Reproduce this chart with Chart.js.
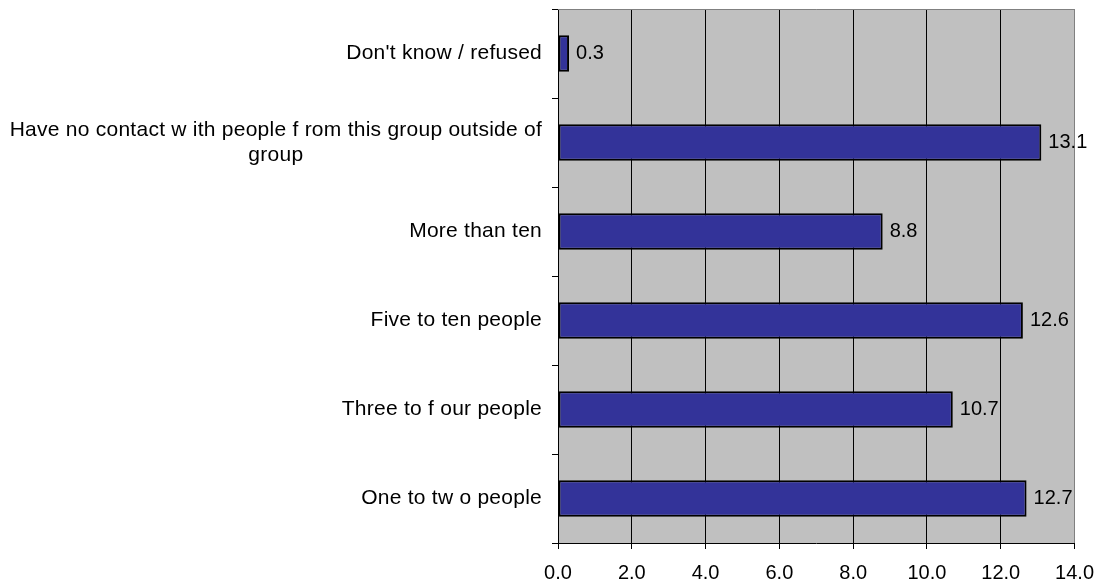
<!DOCTYPE html>
<html>
<head>
<meta charset="utf-8">
<script src="https://cdn.jsdelivr.net/npm/chart.js@4/dist/chart.umd.min.js"></script>
<style>
  html, body { margin: 0; padding: 0; background: #ffffff; }
  canvas { display: block; }
</style>
</head>
<body>
<canvas id="chart" width="1106" height="587"></canvas>
<script>
// Categories, top to bottom; multi-line labels are given as arrays of lines
const categories = [
  ["Don't know / refused"],
  ["Have no contact w ith people f rom this group outside of", "group"],
  ["More than ten"],
  ["Five to ten people"],
  ["Three to f our people"],
  ["One to tw o people"]
];
const values = [0.3, 13.1, 8.8, 12.6, 10.7, 12.7];
const axisMin = 0;
const axisMax = 14;
const axisStep = 2;

const FONT = '"Liberation Sans", Arial, sans-serif';
const FONT_SIZE = 21;

// Grey plot area plus its top border
const plotArea = {
  id: 'plotArea',
  beforeDraw(chart) {
    const { ctx, chartArea: a } = chart;
    ctx.save();
    ctx.fillStyle = '#C0C0C0';
    ctx.fillRect(a.left, a.top, a.right - a.left, a.bottom - a.top);
    ctx.restore();
  },
  beforeDatasetsDraw(chart) {
    const { ctx, chartArea: a } = chart;
    ctx.save();
    ctx.strokeStyle = '#808080';
    ctx.lineWidth = 1;
    ctx.beginPath();
    ctx.moveTo(a.left, Math.round(a.top) + 0.5);
    ctx.lineTo(a.right, Math.round(a.top) + 0.5);
    ctx.stroke();
    ctx.restore();
  }
};

// Value labels to the right of each bar
const valueLabels = {
  id: 'valueLabels',
  afterDatasetsDraw(chart) {
    const { ctx } = chart;
    const meta = chart.getDatasetMeta(0);
    ctx.save();
    ctx.font = '20px ' + FONT;
    ctx.fillStyle = '#000000';
    ctx.textAlign = 'left';
    ctx.textBaseline = 'middle';
    meta.data.forEach((bar, i) => {
      ctx.fillText(values[i].toFixed(1), bar.x + 7, bar.y);
    });
    ctx.restore();
  }
};

// Category labels: each block right-aligned to the axis, its lines centred on one another
const categoryLabels = {
  id: 'categoryLabels',
  afterDraw(chart) {
    const { ctx, chartArea: a } = chart;
    const yScale = chart.scales.y;
    const lineHeight = 25;
    const right = a.left - 16;
    ctx.save();
    ctx.font = FONT_SIZE + 'px ' + FONT;
    if ('letterSpacing' in ctx) ctx.letterSpacing = '0.25px';
    ctx.fillStyle = '#000000';
    ctx.textAlign = 'center';
    ctx.textBaseline = 'middle';
    categories.forEach((lines, i) => {
      const y = yScale.getPixelForTick(i);
      const maxW = Math.max(...lines.map(l => ctx.measureText(l).width));
      const cx = right - maxW / 2;
      lines.forEach((line, j) => {
        ctx.fillText(line, cx, y + (j - (lines.length - 1) / 2) * lineHeight);
      });
    });
    ctx.restore();
  }
};

new Chart(document.getElementById('chart'), {
  type: 'bar',
  data: {
    labels: categories,
    datasets: [{
      data: values,
      backgroundColor: '#333399',
      borderColor: '#000000',
      borderWidth: 2,
      borderSkipped: false,
      barPercentage: 0.41,
      categoryPercentage: 1.0
    }]
  },
  options: {
    indexAxis: 'y',
    responsive: false,
    animation: false,
    devicePixelRatio: 1,
    layout: { padding: { top: 9, right: 28, left: 0, bottom: 0 } },
    plugins: {
      legend: { display: false },
      tooltip: { enabled: false },
      title: { display: false }
    },
    scales: {
      x: {
        type: 'linear',
        min: axisMin,
        max: axisMax,
        afterFit(scale) { scale.height = 44; },
        ticks: {
          stepSize: axisStep,
          color: '#000000',
          font: { family: FONT, size: 20 },
          padding: 12,
          callback: v => Number(v).toFixed(1)
        },
        grid: {
          color: c => (c.tick && c.tick.value === axisMax) ? '#808080' : '#000000',
          tickColor: '#000000',
          lineWidth: 1,
          tickLength: 6,
          drawOnChartArea: true
        },
        border: { color: '#000000', width: 1 }
      },
      y: {
        type: 'category',
        offset: true,
        afterFit(scale) { scale.width = 558; },
        ticks: {
          color: 'rgba(0,0,0,0)',
          font: { family: FONT, size: 1 }
        },
        grid: {
          offset: true,
          drawOnChartArea: false,
          color: '#000000',
          tickLength: 6,
          lineWidth: 1
        },
        border: { color: '#000000', width: 1 }
      }
    }
  },
  plugins: [plotArea, valueLabels, categoryLabels]
});
</script>
</body>
</html>
